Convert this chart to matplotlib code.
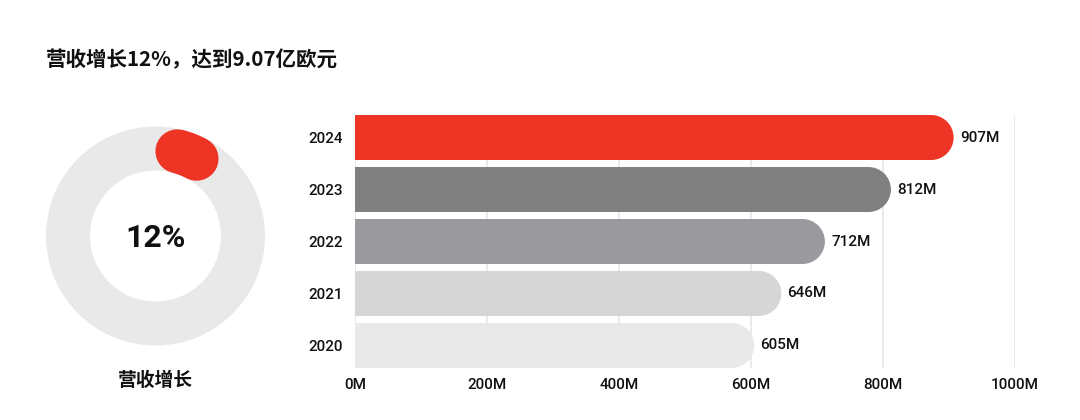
import numpy as np
import matplotlib
matplotlib.use("Agg")
import matplotlib.pyplot as plt
from matplotlib.patches import Ellipse, Wedge

# ---- data ----
title_text = "营收增长12%，达到9.07亿欧元"
gauge_label = "营收增长"
growth_pct = 12
gauge_max = 320          # gauge scale used by the ring
years = ["2020", "2021", "2022", "2023", "2024"]
revenue = [605, 646, 712, 812, 907]
value_labels = ["605M", "646M", "712M", "812M", "907M"]
x_ticks = [0, 200, 400, 600, 800, 1000]
x_tick_labels = ["0M", "200M", "400M", "600M", "800M", "1000M"]
bar_colors = ["#E8E9E8", "#D6D6D6", "#9A999E", "#7F807F", "#EE3424"]

RED = "#EE3424"
RING = "#E8E9E8"
TXT = "#111111"
CJK = ["Noto Sans CJK SC", "DejaVu Sans"]
NUM = ["Roboto", "Noto Sans CJK SC", "DejaVu Sans"]

W, H, DPI = 1080, 420, 100
fig = plt.figure(figsize=(W / DPI, H / DPI), dpi=DPI)
fig.patch.set_facecolor("white")

# ---- title ----
fig.text(46 / W, 1 - 60 / H, title_text, family=CJK, fontsize=14.8,
         weight="bold", color=TXT, ha="left", va="center")

# ---- gauge ----
gx, gy, gs = 155.5, 236, 240
axg = fig.add_axes([(gx - gs / 2) / W, (H - gy - gs / 2) / H, gs / W, gs / H])
axg.set_xlim(-1.2, 1.2)
axg.set_ylim(-1.2, 1.2)
axg.set_aspect("equal")
axg.axis("off")
r_out, r_in = 1.095, 0.655
axg.add_patch(Wedge((0, 0), r_out, 0, 360, width=r_out - r_in,
                    facecolor=RING, edgecolor="none"))
start_ang = 75.5
span = growth_pct / gauge_max * 360
th = np.radians(np.linspace(start_ang, start_ang - span, 50))
r_mid = (r_out + r_in) / 2
lw_pt = (r_out - r_in) * 100 * 72 / DPI
axg.plot(r_mid * np.cos(th), r_mid * np.sin(th), color=RED, lw=lw_pt,
         solid_capstyle="round")
axg.text(0, -0.02, f"{growth_pct}%", family=NUM, fontsize=23, weight="bold",
         color=TXT, ha="center", va="center")
fig.text(gx / W, 1 - 380 / H, gauge_label, family=CJK, fontsize=13.5,
         weight="bold", color=TXT, ha="center", va="center")

# ---- bars ----
x0, x1, ytop, ybot = 355, 1015, 115, 368
ax = fig.add_axes([x0 / W, (H - ybot) / H, (x1 - x0) / W, (ybot - ytop) / H])
bh = 0.866
ypos = np.arange(len(years))
ax.set_xlim(0, 1000)
ax.set_ylim(-bh / 2, len(years) - 1 + bh / 2)

# pixel scale to make circular end caps
px_per_x = (x1 - x0) / 1000
px_per_y = (ybot - ytop) / (len(years) - 1 + bh)
r_px = bh * px_per_y / 2
rx = r_px / px_per_x

for y, v, c in zip(ypos, revenue, bar_colors):
    ax.barh(y, v - rx, height=bh, color=c, linewidth=0, zorder=2)
    ax.add_patch(Ellipse((v - rx, y), 2 * rx, bh, facecolor=c,
                         edgecolor="none", zorder=2))
    ax.annotate(value_labels[y], (v, y), xytext=(4.5, 0),
                textcoords="offset points", ha="left", va="center",
                family=NUM, fontsize=11, weight="medium", color=TXT)

ax.set_xticks(x_ticks)
ax.set_xticklabels(x_tick_labels, family=NUM, fontsize=11, weight="medium",
                   color=TXT)
ax.set_yticks(ypos)
ax.set_yticklabels(years, family=NUM, fontsize=11, weight="medium", color=TXT)
ax.tick_params(axis="x", length=0, pad=7)
ax.tick_params(axis="y", length=0, pad=8.6)
ax.grid(axis="x", color="#E6E6E6", lw=1.2, zorder=0)
ax.set_axisbelow(True)
for s in ax.spines.values():
    s.set_visible(False)

fig.savefig("out.png", dpi=DPI, facecolor="white")
